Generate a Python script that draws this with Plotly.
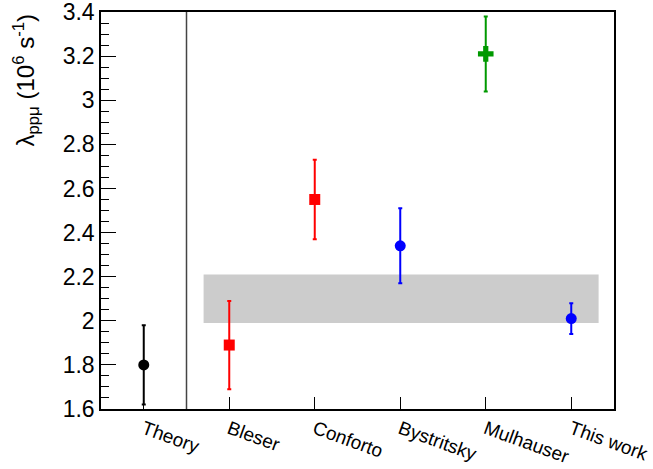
import plotly.graph_objects as go

labels = ["Theory", "Bleser", "Conforto", "Bystritsky", "Mulhauser", "This work"]
values = [1.80, 1.89, 2.55, 2.34, 3.21, 2.01]
errors = [0.18, 0.20, 0.18, 0.17, 0.17, 0.07]
colors = ["#000000", "#ff0000", "#ff0000", "#0000ff", "#009900", "#0000ff"]
symbols = ["circle", "square", "square", "circle", "cross", "circle"]
sizes = [11, 11, 11, 11, 13, 11]

band_x = [0.7, 5.32]
band_y = [1.99, 2.21]
divider_x = 0.5

fig = go.Figure()

fig.add_shape(type="rect", xref="x", yref="y", x0=band_x[0], x1=band_x[1],
              y0=band_y[0], y1=band_y[1], fillcolor="#cccccc", line_width=0, layer="below")
fig.add_shape(type="line", xref="x", yref="paper", x0=divider_x, x1=divider_x,
              y0=0, y1=1, line=dict(color="#444444", width=1.5))

for i, lab in enumerate(labels):
    fig.add_trace(go.Scatter(
        x=[i], y=[values[i]], mode="markers", name=lab,
        marker=dict(color=colors[i], symbol=symbols[i], size=sizes[i], line_width=0),
        error_y=dict(type="data", array=[errors[i]], color=colors[i], thickness=2, width=2),
        showlegend=False))

fig.add_annotation(text="λ<sub>ppμ</sub> (10<sup>6</sup> s<sup>-1</sup>)",
                   xref="paper", yref="paper", x=-0.148, y=1.0,
                   xanchor="center", yanchor="top", textangle=-90,
                   showarrow=False, font=dict(size=24))

fig.update_layout(
    width=653, height=469,
    margin=dict(l=101, r=39, t=12, b=60, autoexpand=False),
    plot_bgcolor="white", paper_bgcolor="white",
    font=dict(family="Liberation Sans, Arial, sans-serif", color="black"),
    xaxis=dict(range=[-0.5, 5.5], tickvals=list(range(len(labels))), ticktext=labels,
               tickangle=20, ticks="inside", ticklen=12, tickcolor="black", tickwidth=1,
               showline=True, linecolor="black", linewidth=1.5, mirror=True, automargin=False,
               ticklabeloverflow="allow",
               showgrid=False, zeroline=False, tickfont=dict(size=19)),
    yaxis=dict(range=[1.6, 3.4], dtick=0.2, tick0=1.6, ticks="inside", ticklen=15,
               tickcolor="black", tickwidth=1, automargin=False, ticklabeloverflow="allow",
               minor=dict(dtick=0.05, ticks="inside", ticklen=8, tickcolor="black", showgrid=False),
               showline=True, linecolor="black", linewidth=1.5, mirror=True,
               showgrid=False, zeroline=False, tickfont=dict(size=23)),
)

fig.write_html("out.html", config={"displayModeBar": False},
               post_script="document.body.style.margin='0';document.body.style.overflow='hidden';")
